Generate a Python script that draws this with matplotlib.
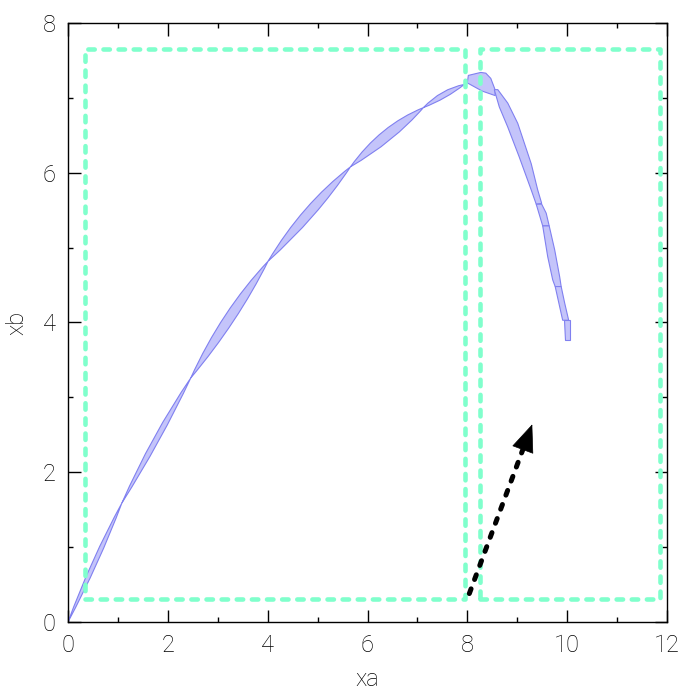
import numpy as np
import matplotlib
matplotlib.use('Agg')
import matplotlib.pyplot as plt
from matplotlib.path import Path
from matplotlib.patches import PathPatch, Polygon

# left branch: pinch points and lens middles (x, y), half thickness in pixels
pinch_x = [0.0, 1.08, 2.46, 4.01, 5.66, 7.12, 7.94]
pinch_y = [0.0, 1.59, 3.26, 4.82, 6.08, 6.87, 7.18]
mid_x = [0.54, 1.77, 3.235, 4.835, 6.39, 7.53]
mid_y = [0.80, 2.44, 4.06, 5.47, 6.50, 7.04]
mid_half_px = [2.3, 2.8, 5.0, 5.0, 5.4, 2.8]

# right branch: cap and descending pieces
cap_x = [8.00, 8.02, 8.27, 8.37, 8.47, 8.55, 8.56, 8.30]
cap_y = [7.20, 7.30, 7.34, 7.33, 7.26, 7.12, 7.03, 7.09]

seg1_x = [8.54, 8.61, 8.81, 9.01, 9.11, 9.28, 9.41, 9.49, 9.38, 9.28, 9.04, 8.81, 8.64]
seg1_y = [7.11, 7.11, 6.93, 6.66, 6.46, 6.12, 5.77, 5.59, 5.58, 5.77, 6.21, 6.61, 6.88]
seg2_x = [9.38, 9.49, 9.58, 9.64, 9.51]
seg2_y = [5.58, 5.58, 5.46, 5.29, 5.29]
seg3_x = [9.51, 9.64, 9.75, 9.85, 9.88, 9.76, 9.71, 9.61]
seg3_y = [5.29, 5.29, 4.97, 4.61, 4.48, 4.48, 4.57, 4.88]
seg4_x = [9.76, 9.88, 9.95, 10.03, 9.91]
seg4_y = [4.48, 4.48, 4.26, 4.03, 4.03]
seg5_x = [9.93, 10.05, 10.05, 9.95]
seg5_y = [4.03, 4.03, 3.76, 3.76]

# dashed boxes
box_x0 = [0.35, 8.25]
box_x1 = [7.95, 11.85]
box_y0 = 0.31
box_y1 = 7.65

# arrow
arrow_start = (8.04, 0.38)
arrow_tip = (9.30, 2.64)

face = '#C4C4FA'
edge = '#8080F0'
green = '#80FFCC'

plt.rcParams['font.family'] = ['Roboto', 'DejaVu Sans']
plt.rcParams['font.weight'] = 'light'
plt.rcParams['axes.labelweight'] = 'light'
plt.rcParams['font.size'] = 17

fig = plt.figure(figsize=(6.88, 6.92), dpi=100, facecolor='w')
ax = fig.add_axes([68/688, 1-622/692, 599/688, 599/692])
ax.set_xlim(0, 12)
ax.set_ylim(0, 8)

tr = ax.transData
inv = tr.inverted()
for i in range(len(mid_x)):
    p0 = tr.transform((pinch_x[i], pinch_y[i]))
    p2 = tr.transform((pinch_x[i+1], pinch_y[i+1]))
    m = tr.transform((mid_x[i], mid_y[i]))
    d = (p2 - p0) / np.hypot(*(p2 - p0))
    n = np.array([-d[1], d[0]])
    cu = 2*(m + n*mid_half_px[i]) - 0.5*(p0 + p2)
    cl = 2*(m - n*mid_half_px[i]) - 0.5*(p0 + p2)
    verts = inv.transform(np.array([p0, cu, p2, cl, p0]))
    path = Path(verts, [Path.MOVETO, Path.CURVE3, Path.CURVE3, Path.CURVE3, Path.CURVE3])
    ax.add_patch(PathPatch(path, facecolor=face, edgecolor=edge, lw=0.8, zorder=2))

for sx, sy in [(cap_x, cap_y), (seg1_x, seg1_y), (seg2_x, seg2_y),
               (seg3_x, seg3_y), (seg4_x, seg4_y), (seg5_x, seg5_y)]:
    ax.add_patch(Polygon(np.column_stack([sx, sy]), closed=True,
                         facecolor=face, edgecolor=edge, lw=0.8, zorder=2))

for x0, x1 in zip(box_x0, box_x1):
    ax.plot([x0, x1, x1, x0, x0], [box_y0, box_y0, box_y1, box_y1, box_y0],
            color=green, lw=3.3, dashes=(1.4, 1.9), dash_capstyle='round',
            solid_joinstyle='round', zorder=3)

# dashed shaft, then filled head
sx, sy = arrow_start
tx, ty = arrow_tip
frac = 0.9
bx, by = sx + frac*(tx - sx), sy + frac*(ty - sy)
ax.plot([sx, bx], [sy, by], color='k', lw=3.6, dashes=(1.0, 2.0),
        dash_capstyle='round', zorder=4)
ax.annotate('', xy=arrow_tip, xytext=(bx, by),
            arrowprops=dict(arrowstyle='-|>,head_length=1.1,head_width=0.45',
                            color='k', lw=0.5, shrinkA=0, shrinkB=0), zorder=5)

ax.set_xticks(np.arange(0, 13, 2))
ax.set_yticks(np.arange(0, 9, 2))
ax.set_xticks(np.arange(0, 13, 1), minor=True)
ax.set_yticks(np.arange(0, 9, 1), minor=True)
ax.tick_params(which='both', direction='in', top=True, right=True, width=1.0)
ax.tick_params(which='major', length=9, pad=9)
ax.tick_params(which='minor', length=3.3)
for s in ax.spines.values():
    s.set_linewidth(1.0)

ax.set_xlabel('xa')
ax.set_ylabel('xb')
ax.xaxis.set_label_coords(0.5, -0.096)
ax.yaxis.set_label_coords(-0.085, 0.5)
ax.xaxis.label.set_va('center')
ax.yaxis.label.set_va('center')

plt.savefig('out.png', dpi=100, facecolor='w')
